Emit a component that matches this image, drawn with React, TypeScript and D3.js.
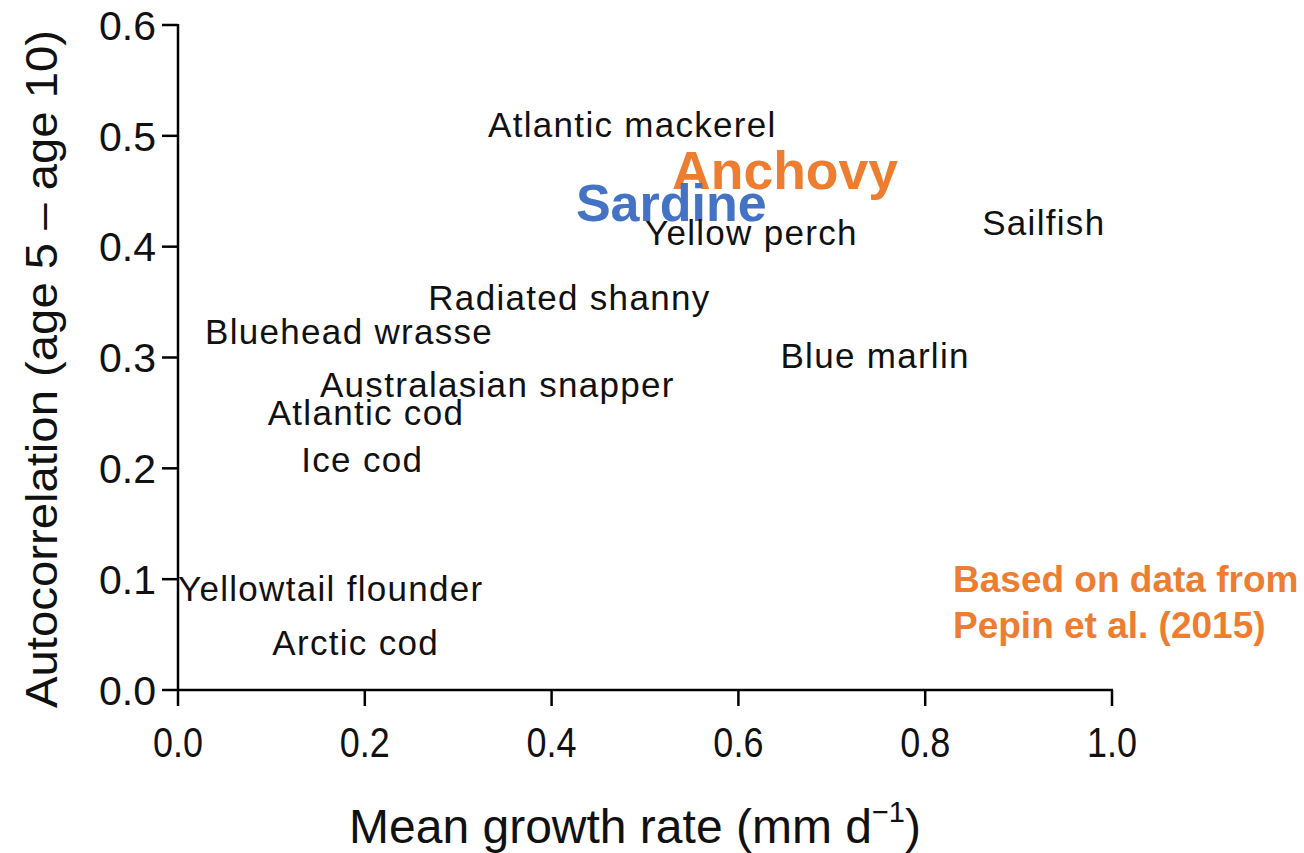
import React from "react";
import * as d3 from "d3";

const species = [
  "Atlantic mackerel",
  "Anchovy",
  "Sardine",
  "Yellow perch",
  "Sailfish",
  "Radiated shanny",
  "Bluehead wrasse",
  "Blue marlin",
  "Australasian snapper",
  "Atlantic cod",
  "Ice cod",
  "Yellowtail flounder",
  "Arctic cod",
];
const growthRate = [0.332, 0.529, 0.426, 0.5, 0.861, 0.268, 0.029, 0.645, 0.152, 0.096, 0.132, 0.0, 0.101];
const autocorrelation = [0.51, 0.469, 0.44, 0.413, 0.422, 0.354, 0.323, 0.302, 0.275, 0.25, 0.208, 0.091, 0.043];
const highlight = ["", "anchovy", "sardine", "", "", "", "", "", "", "", "", "", ""];

const xTicks = [0, 0.2, 0.4, 0.6, 0.8, 1.0];
const yTicks = [0, 0.1, 0.2, 0.3, 0.4, 0.5, 0.6];
const noteLines = ["Based on data from", "Pepin et al. (2015)"];

const W = 1304;
const H = 853;
const FONT = "'Liberation Sans', Arial, sans-serif";
const ORANGE = "#ED7D31";
const BLUE = "#4472C4";

export default function App() {
  const x = d3.scaleLinear().domain([0, 1]).range([178, 1112]);
  const y = d3.scaleLinear().domain([0, 0.6]).range([690, 25]);
  const fmt = d3.format(".1f");

  return (
    <svg width={W} height={H} style={{ position: "absolute", left: 0, top: 0, background: "#fff" }} fontFamily={FONT}>
      <rect width={W} height={H} fill="#fff" />
      {/* axes */}
      <line x1={x(0)} x2={x(0)} y1={y(0.6) - 1} y2={y(0) + 1} stroke="#000" strokeWidth={2.5} />
      <line x1={x(0) - 1} x2={x(1) + 1} y1={y(0)} y2={y(0)} stroke="#000" strokeWidth={2.5} />
      {yTicks.map((t) => (
        <g key={"y" + t}>
          <line x1={x(0) - 16} x2={x(0)} y1={y(t)} y2={y(t)} stroke="#000" strokeWidth={2.5} />
          <text x={x(0) - 22} y={y(t)} dy="0.36em" textAnchor="end" fontSize={41} fill="#111">
            {fmt(t)}
          </text>
        </g>
      ))}
      {xTicks.map((t) => (
        <g key={"x" + t}>
          <line x1={x(t)} x2={x(t)} y1={y(0)} y2={y(0) + 16} stroke="#000" strokeWidth={2.5} />
          <text
            x={x(t)}
            y={757}
            textAnchor="middle"
            fontSize={40}
            fill="#111"
            transform={`translate(${x(t)},757) scale(0.9,1.05) translate(${-x(t)},-757)`}
          >
            {fmt(t)}
          </text>
        </g>
      ))}
      {/* axis titles */}
      <text
        transform={`translate(57, 369) rotate(-90)`}
        textAnchor="middle"
        fontSize={45}
        fill="#111"
        textLength={678}
        lengthAdjust="spacingAndGlyphs"
      >
        Autocorrelation (age 5 – age 10)
      </text>
      <text x={635} y={843} textAnchor="middle" fontSize={48} fill="#111">
        Mean growth rate (mm d
        <tspan fontSize={29} dy={-21}>−1</tspan>
        <tspan dy={21}>)</tspan>
      </text>
      {/* labels as markers */}
      {species.map((s, i) => {
        const h = highlight[i];
        const bold = h !== "";
        return (
          <text
            key={s}
            x={x(growthRate[i])}
            y={y(autocorrelation[i])}
            dy="0.35em"
            fontSize={h === "anchovy" ? 53.5 : bold ? 52 : 35}
            fontWeight={bold ? "bold" : "normal"}
            letterSpacing={bold ? 0 : 1.3}
            fill={h === "anchovy" ? ORANGE : h === "sardine" ? BLUE : "#111"}
          >
            {s}
          </text>
        );
      })}
      {/* note */}
      {noteLines.map((l, i) => (
        <text key={l} x={953} y={592 + i * 46} fontSize={37} fontWeight="bold" fill={ORANGE}>
          {l}
        </text>
      ))}
    </svg>
  );
}
